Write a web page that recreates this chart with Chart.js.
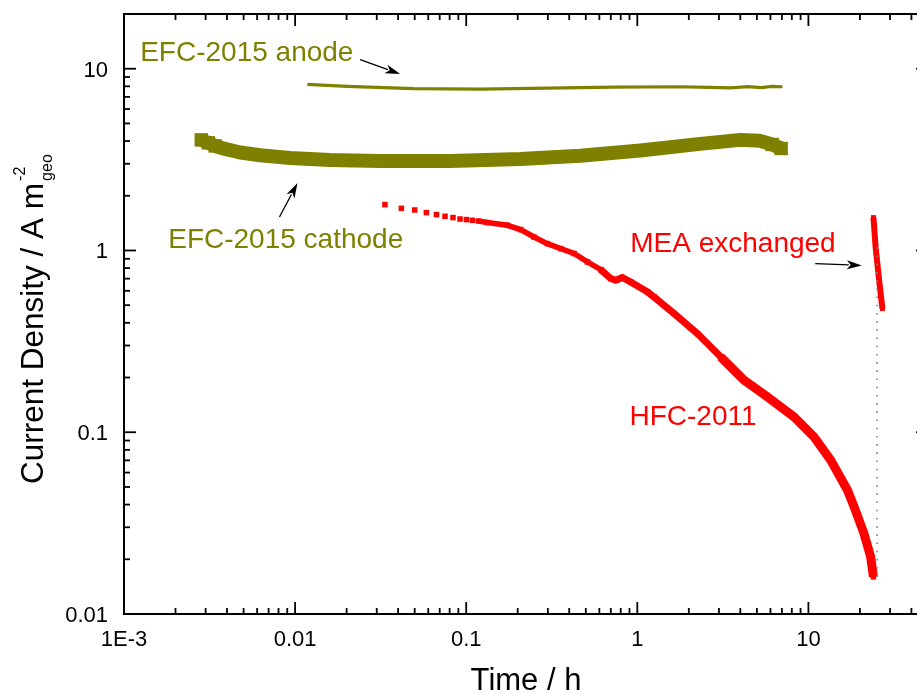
<!DOCTYPE html>
<html>
<head>
<meta charset="utf-8">
<script src="https://cdn.jsdelivr.net/npm/chart.js@4.4.1/dist/chart.umd.min.js"></script>
<style>
  html, body { margin: 0; padding: 0; background: #fff; overflow: hidden; }
  #wrap { width: 917px; height: 693px; overflow: hidden; }
</style>
</head>
<body>
<div id="wrap"><canvas id="chart" width="940" height="700"></canvas></div>
<script>
// Current density vs time, log-log
const FONT = '"Liberation Sans", Arial, Helvetica, sans-serif';
const OLIVE = '#808000';
const RED = '#ff0000';

const xMajor = [0.001, 0.01, 0.1, 1, 10];
const xMajorLabels = ['1E-3', '0.01', '0.1', '1', '10'];
const yMajor = [0.01, 0.1, 1, 10];
const yMajorLabels = ['0.01', '0.1', '1', '10'];

// EFC-2015 anode (thin line)
const anodeT = [0.0118, 0.0202, 0.0495, 0.1216, 0.298, 0.728, 1.79, 2.6, 3.52, 4.4, 5.3, 6.1, 7.05];
const anodeJ = [8.20, 7.99, 7.77, 7.73, 7.82, 7.92, 7.96, 7.90, 7.84, 7.97, 7.88, 7.99, 7.96];

// EFC-2015 cathode (thick square markers)
const cathodeT = [0.00283, 0.00311, 0.00341, 0.0039, 0.00478, 0.00625, 0.00936, 0.016, 0.0314, 0.0806, 0.207, 0.464, 1.04, 2.33, 4.0, 5.23, 6.14, 6.93];
const cathodeJ = [4.06, 3.91, 3.76, 3.62, 3.46, 3.34, 3.23, 3.15, 3.11, 3.11, 3.19, 3.32, 3.55, 3.86, 4.06, 4.01, 3.83, 3.64];

// HFC-2011
const hfcT = [0.0335, 0.0418, 0.050, 0.0585, 0.0670, 0.0752, 0.0837, 0.0920, 0.1003, 0.1087, 0.1178,
  0.133, 0.174, 0.208, 0.249, 0.298, 0.357, 0.427, 0.511, 0.611, 0.699, 0.748, 0.818, 0.915,
  1.146, 1.252, 1.639, 2.245, 3.07, 4.20, 5.76, 8.24, 10.78, 13.5, 16.9, 18.5, 21.1, 23.1, 24.0];
const hfcJ = [1.788, 1.706, 1.670, 1.616, 1.576, 1.542, 1.517, 1.490, 1.479, 1.466, 1.453,
  1.424, 1.376, 1.303, 1.186, 1.091, 1.024, 0.962, 0.865, 0.785, 0.701, 0.686, 0.710, 0.671,
  0.592, 0.555, 0.450, 0.349, 0.260, 0.1934, 0.1565, 0.1215, 0.0943, 0.0703, 0.0481, 0.0389, 0.0278, 0.0207, 0.0160];

// after MEA exchange
const meaT = [24.0, 24.7, 25.9, 27.07];
const meaJ = [1.517, 1.045, 0.686, 0.479];

// dotted guide at the exchange
const guideT = [25.2, 25.2];
const guideJ = [0.016, 1.07];

// text labels and arrows, in data coordinates
const labels = [
  { text: 'EFC-2015 anode', t: 0.001243, j: 10.97, color: OLIVE },
  { text: 'EFC-2015 cathode', t: 0.001813, j: 1.027, color: OLIVE },
  { text: 'MEA exchanged', t: 0.909, j: 0.976, color: RED },
  { text: 'HFC-2011', t: 0.900, j: 0.1091, color: RED },
];
const arrows = [
  { from: [0.0240, 11.21], to: [0.0411, 9.36] },
  { from: [0.0081, 1.527], to: [0.01033, 2.349] },
  { from: [10.96, 0.846], to: [20.5, 0.828] },
];

const pts = (xs, ys) => xs.map((v, i) => ({ x: v, y: ys[i] }));

function minorTicks(lo, hi) {
  const out = [];
  for (let d = lo; d < hi; d *= 10) {
    for (let m = 2; m <= 9; m++) {
      const v = m * d;
      if (v <= hi * 1.0001) out.push(v);
    }
  }
  return out;
}

function line(ctx, x1, y1, x2, y2) {
  ctx.beginPath(); ctx.moveTo(x1, y1); ctx.lineTo(x2, y2); ctx.stroke();
}

function arrow(ctx, x1, y1, x2, y2) {
  const ang = Math.atan2(y2 - y1, x2 - x1);
  const hl = 15, hw = 4.5;
  const bx = x2 - hl * Math.cos(ang), by = y2 - hl * Math.sin(ang);
  ctx.lineWidth = 1.3;
  line(ctx, x1, y1, bx + 2 * Math.cos(ang), by + 2 * Math.sin(ang));
  ctx.beginPath();
  ctx.moveTo(x2, y2);
  ctx.lineTo(bx - hw * Math.sin(ang), by + hw * Math.cos(ang));
  ctx.lineTo(bx + 4 * Math.cos(ang), by + 4 * Math.sin(ang));
  ctx.lineTo(bx + hw * Math.sin(ang), by - hw * Math.cos(ang));
  ctx.closePath();
  ctx.fill();
}

const framePlugin = {
  id: 'frame',
  afterDraw(chart) {
    const { ctx, chartArea: a, scales: { x, y } } = chart;
    ctx.save();

    // ticks, inward on all four sides
    ctx.strokeStyle = '#000';
    ctx.lineWidth = 1.8;
    const tx = (v, len) => {
      const px = x.getPixelForValue(v);
      line(ctx, px, a.bottom, px, a.bottom - len);
      line(ctx, px, a.top, px, a.top + len);
    };
    const ty = (v, len) => {
      const py = y.getPixelForValue(v);
      line(ctx, a.left, py, a.left + len, py);
      line(ctx, a.right, py, a.right - len, py);
    };
    xMajor.forEach(v => tx(v, 12));
    minorTicks(0.001, 50).forEach(v => tx(v, 6));
    yMajor.forEach(v => ty(v, 12));
    minorTicks(0.01, 20).forEach(v => ty(v, 6));

    ctx.lineWidth = 2;
    ctx.strokeRect(a.left, a.top, a.right - a.left, a.bottom - a.top);

    // tick labels
    ctx.fillStyle = '#000';
    ctx.font = `22px ${FONT}`;
    ctx.textBaseline = 'alphabetic';
    ctx.textAlign = 'center';
    xMajor.forEach((v, i) => ctx.fillText(xMajorLabels[i], x.getPixelForValue(v), a.bottom + 32));
    ctx.textAlign = 'right';
    yMajor.forEach((v, i) => ctx.fillText(yMajorLabels[i], a.left - 16, y.getPixelForValue(v) + 8));

    // axis titles
    ctx.font = `31px ${FONT}`;
    ctx.textAlign = 'center';
    ctx.fillText('Time / h', (a.left + a.right) / 2, a.bottom + 76);

    ctx.save();
    ctx.translate(a.left - 81, 484);
    ctx.rotate(-Math.PI / 2);
    ctx.textAlign = 'left';
    ctx.font = `31.5px ${FONT}`;
    const main = 'Current Density / A m';
    ctx.fillText(main, 0, 0);
    const w = ctx.measureText(main).width;
    ctx.font = `16px ${FONT}`;
    ctx.fillText('-2', w + 2, -18);
    ctx.fillText('geo', w + 2, 9);
    ctx.restore();

    // annotations
    ctx.font = `28px ${FONT}`;
    ctx.textAlign = 'left';
    labels.forEach(l => {
      ctx.fillStyle = l.color;
      ctx.fillText(l.text, x.getPixelForValue(l.t), y.getPixelForValue(l.j));
    });
    ctx.fillStyle = '#000';
    ctx.strokeStyle = '#000';
    arrows.forEach(ar => {
      arrow(ctx,
        x.getPixelForValue(ar.from[0]), y.getPixelForValue(ar.from[1]),
        x.getPixelForValue(ar.to[0]), y.getPixelForValue(ar.to[1]));
    });

    ctx.restore();
  }
};

new Chart(document.getElementById('chart'), {
  type: 'scatter',
  data: {
    datasets: [
      {
        label: 'guide',
        data: pts(guideT, guideJ),
        showLine: true,
        borderColor: '#808080',
        borderWidth: 1.6,
        borderDash: [1.6, 6.6],
        pointRadius: 0
      },
      {
        label: 'MEA exchanged',
        data: pts(meaT, meaJ),
        showLine: true,
        borderColor: RED,
        backgroundColor: RED,
        borderWidth: 6,
        pointStyle: 'rect',
        pointRadius: 3.5,
        pointBorderWidth: 0
      },
      {
        label: 'HFC-2011',
        data: pts(hfcT, hfcJ),
        showLine: true,
        borderColor: RED,
        backgroundColor: RED,
        borderWidth: 6,
        pointStyle: 'rect',
        pointRadius: 3.9,
        pointBorderWidth: 0,
        segment: {
          borderColor: c => c.p1DataIndex <= 10 ? 'rgba(0,0,0,0)' : RED,
          borderWidth: c => c.p1DataIndex < 20 ? 5.5 : (c.p1DataIndex < 29 ? 7 : 9)
        }
      },
      {
        label: 'EFC-2015 anode',
        data: pts(anodeT, anodeJ),
        showLine: true,
        borderColor: OLIVE,
        borderWidth: 3.2,
        pointRadius: 0
      },
      {
        label: 'EFC-2015 cathode',
        data: pts(cathodeT, cathodeJ),
        showLine: true,
        borderColor: OLIVE,
        backgroundColor: OLIVE,
        borderWidth: 14,
        borderJoinStyle: 'round',
        pointStyle: 'rect',
        pointRadius: c => (c.dataIndex < 3 || c.dataIndex >= cathodeT.length - 2 ? 9.5 : 0),
        pointBorderWidth: 0
      }
    ]
  },
  options: {
    responsive: false,
    animation: false,
    layout: { padding: { left: 124, top: 14, right: 12, bottom: 86 } },
    plugins: { legend: { display: false }, tooltip: { enabled: false } },
    scales: {
      x: { type: 'logarithmic', min: 0.001, max: 50, display: false },
      y: { type: 'logarithmic', min: 0.01, max: 20, display: false }
    }
  },
  plugins: [framePlugin]
});
</script>
</body>
</html>
